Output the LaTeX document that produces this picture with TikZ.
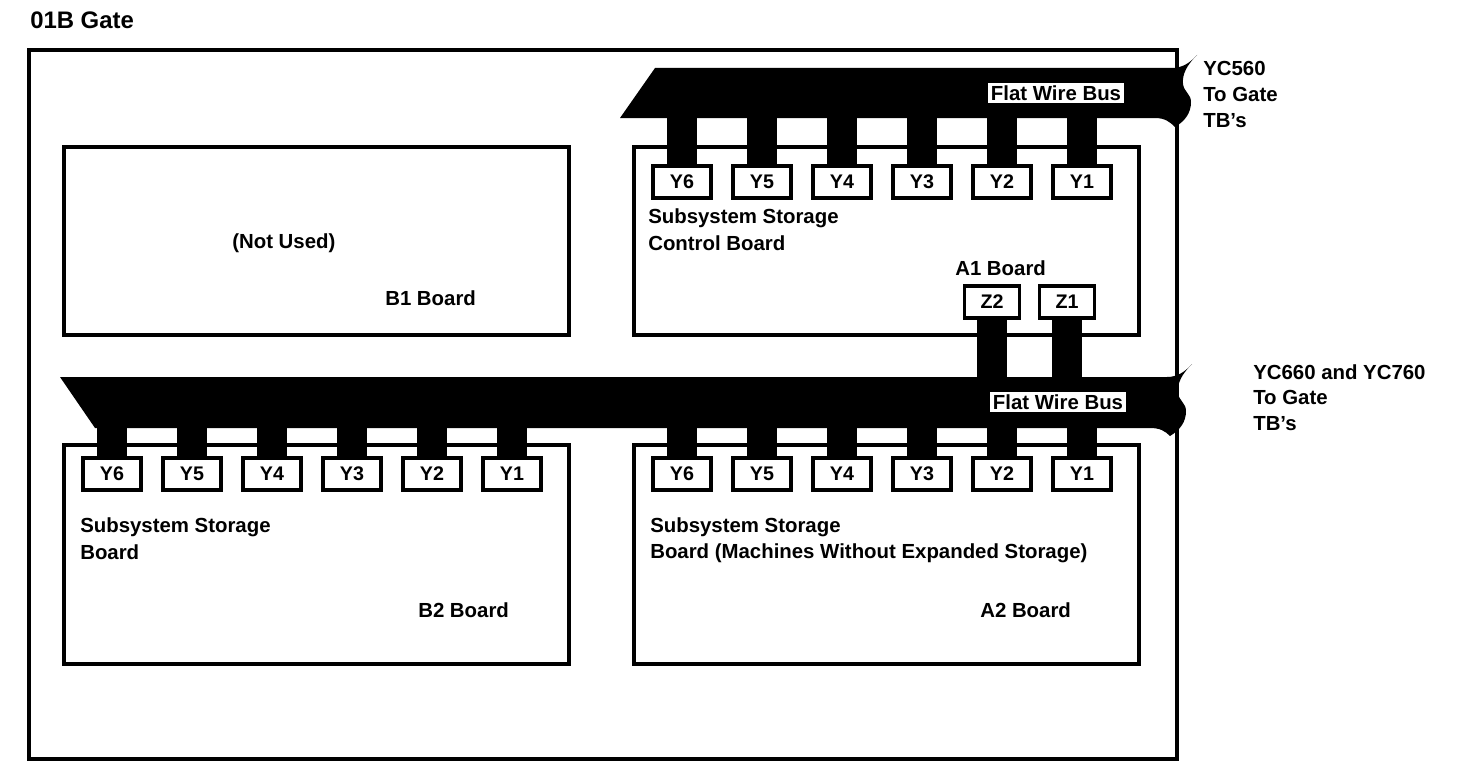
\documentclass[tikz,border=0pt]{standalone}
\usepackage{fontspec}
\setmainfont{Liberation Sans}
\usetikzlibrary{positioning,calc}

\begin{document}
\begin{tikzpicture}[x=0.025cm, y=-0.025cm]
    \def\u{0.025cm} % one pixel of the sheet

    % Style for boards, connectors and labels
    \tikzset{
        board/.style={draw=black, line width=2.8pt, anchor=north west, inner sep=0pt},
        conn/.style={draw=black, line width=2.8pt, fill=white, minimum width=58*\u, minimum height=32*\u, inner sep=0pt, font=\fontsize{14}{14}\selectfont\bfseries},
        stub/.style={black, line width=30*\u},
        buslabel/.style={fill=white, inner sep=2pt, font=\fontsize{14.5}{15}\selectfont\bfseries},
        txt/.style={anchor=west, inner sep=0pt, font=\fontsize{14.5}{15}\selectfont\bfseries},
        side/.style={anchor=north west, align=left, inner sep=0pt, font=\fontsize{14.5}{18.4}\selectfont\bfseries}
    }

    \useasboundingbox (0,0) rectangle (1479,762);

    % --- GATE AND BOARDS ---
    \node[anchor=west, inner sep=0pt, font=\fontsize{17}{17}\selectfont\bfseries] (title) at (30,20) {01B Gate};
    \node[board, minimum width=1148*\u, minimum height=709*\u] (gate) at (27,48) {};
    \node[board, minimum width=505*\u, minimum height=188*\u] (B1) at (62,145) {};
    \node[board, minimum width=505*\u, minimum height=188*\u] (A1) at (632,145) {};
    \node[board, minimum width=505*\u, minimum height=219*\u] (B2) at (62,443) {};
    \node[board, minimum width=505*\u, minimum height=219*\u] (A2) at (632,443) {};

    % --- FLAT WIRE BUSES ---
    % top bus, torn end on the right
    \fill[black] (655,68) -- (1172,68)
        .. controls (1182,68) and (1190,63) .. (1197,55)
        .. controls (1187,65) and (1182,74) .. (1183,84)
        .. controls (1184,92) and (1191,94) .. (1191,102)
        .. controls (1191,113) and (1185,121) .. (1175,127)
        .. controls (1170,122) and (1165,118) .. (1155,118)
        -- (620,118) -- cycle;
    % bottom bus
    \fill[black] (60,377) -- (1167,377)
        .. controls (1177,377) and (1185,372) .. (1192,364)
        .. controls (1182,374) and (1177,383) .. (1178,393)
        .. controls (1179,401) and (1186,403) .. (1186,411)
        .. controls (1186,422) and (1180,430) .. (1170,436)
        .. controls (1165,431) and (1160,428) .. (1150,428)
        -- (95,428) -- cycle;
    \coordinate (tbus) at (0,116);
    \coordinate (bbustop) at (0,379);
    \coordinate (bbus) at (0,426);

    \node[buslabel] (tlabel) at (1056,93) {Flat Wire Bus};
    \node[buslabel] (blabel) at (1058,402) {Flat Wire Bus};

    % --- CONNECTORS Y1..Y6 ---
    \foreach \i in {1,...,6} {
        \pgfmathsetmacro{\xA}{1082 - (\i-1)*80}
        \pgfmathsetmacro{\xB}{512 - (\i-1)*80}
        \node[conn] (a1y\i) at (\xA,182) {Y\i};
        \node[conn] (b2y\i) at (\xB,474) {Y\i};
        \node[conn] (a2y\i) at (\xA,474) {Y\i};
        \draw[stub] (a1y\i.north) -- (a1y\i.north |- tbus);
        \draw[stub] (b2y\i.north) -- (b2y\i.north |- bbus);
        \draw[stub] (a2y\i.north) -- (a2y\i.north |- bbus);
    }

    % --- CONNECTORS Z1, Z2 ---
    \node[conn, minimum width=55*\u] (z2) at (992,302) {Z2};
    \node[conn, minimum width=55*\u] (z1) at (1067,302) {Z1};
    \draw[stub] (z2.south) -- (z2.south |- bbustop);
    \draw[stub] (z1.south) -- (z1.south |- bbustop);

    % --- BOARD TEXTS ---
    \node[txt] (notused) at (232,243) {(Not Used)};
    \node[txt] (b1name) at (385,298) {B1 Board};
    \node[txt] (a1t1) at (648,218) {Subsystem Storage};
    \node[txt] (a1t2) at (648,243) {Control Board};
    \node[txt] (a1name) at (955,268) {A1 Board};
    \node[txt] (b2t1) at (80,527) {Subsystem Storage};
    \node[txt] (b2t2) at (80,552) {Board};
    \node[txt] (b2name) at (418,610) {B2 Board};
    \node[txt] (a2t1) at (650,527) {Subsystem Storage};
    \node[txt] (a2t2) at (650,553) {Board (Machines Without Expanded Storage)};
    \node[txt] (a2name) at (980,610) {A2 Board};

    % --- CABLE DESTINATIONS ---
    \node[side] (tdest) at (1203,61) {YC560\\To Gate\\TB's};
    \node[side] (bdest) at (1253,364) {YC660 and YC760\\To Gate\\TB's};

\end{tikzpicture}
\end{document}
